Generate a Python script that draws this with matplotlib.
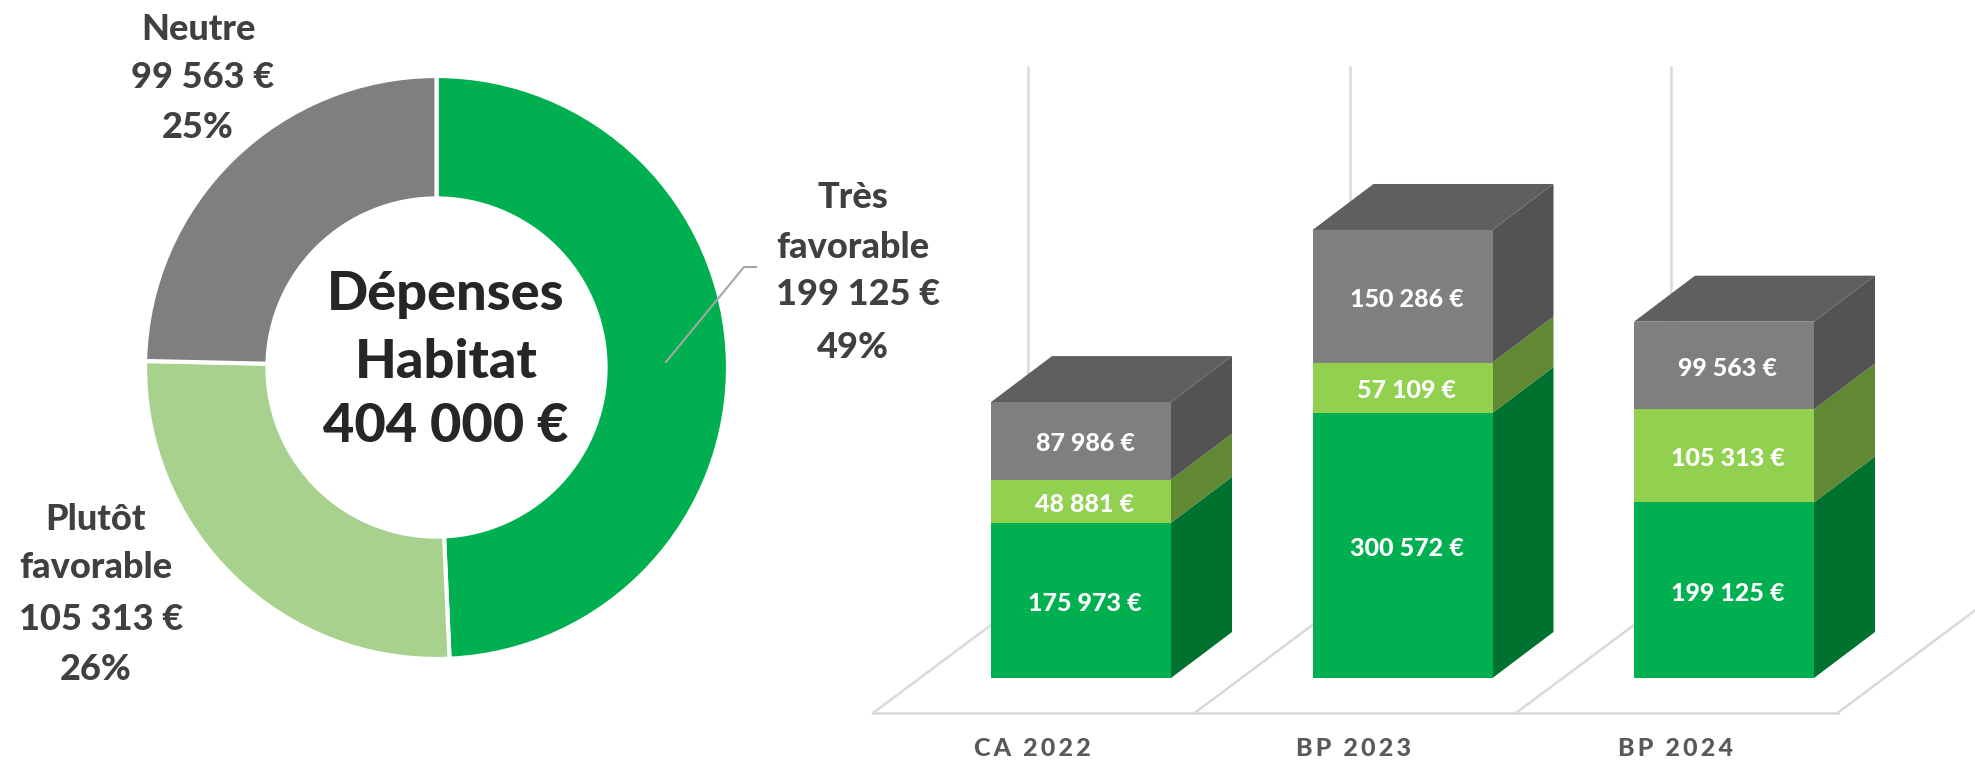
import matplotlib
matplotlib.use('Agg')
import matplotlib.pyplot as plt

# donut
donut_labels = ['Très\nfavorable', 'Plutôt\nfavorable', 'Neutre']
donut_values = [199125, 105313, 99563]
donut_shares = ['49%', '26%', '25%']
donut_colors = ['#00B050', '#A9D18E', '#7F7F7F']
center_lines = ['Dépenses', 'Habitat', '404 000 €']

# stacked bars
periods = ['C\u2009A  2\u20090\u20092\u20092', 'B\u2009P  2\u20090\u20092\u20093', 'B\u2009P  2\u20090\u20092\u20094']
tres_favorable = [175973, 300572, 199125]
plutot_favorable = [48881, 57109, 105313]
neutre = [87986, 150286, 99563]
front_colors = ['#00B050', '#92D050', '#7F7F7F']
side_colors = ['#00722F', '#618833', '#535353']
top_color = '#5F5F5F'

W, H = 1975, 760
TEXT = '#404040'
GRID = '#D9D9D9'

plt.rcParams['font.family'] = ['Lato', 'DejaVu Sans']


def euro(v):
    return f'{v:,}'.replace(',', ' ') + ' €'


def box(left, top, right, bottom):
    return [left / W, 1 - bottom / H, (right - left) / W, (bottom - top) / H]


def fig_text(fig, x, y, s, **kw):
    fig.text(x / W, 1 - y / H, s, ha='center', va='center', **kw)


fig = plt.figure(figsize=(W / 100, H / 100), dpi=100)

# --- donut ---
ax = fig.add_axes(box(145, 76, 728, 659))
ax.pie(donut_values, colors=donut_colors, startangle=90, counterclock=False, radius=1,
       wedgeprops=dict(width=0.42, edgecolor='white', linewidth=3))
ax.set_xlim(-1, 1)
ax.set_ylim(-1, 1)

for y, line in zip([295, 362, 426], center_lines):
    fig_text(fig, 446, y, line, fontsize=39, fontweight='black', color='#262626')

label_spots = [(853, [198, 248, 295, 348]), (96, [519, 568, 619, 669]), (198, [30, 78, 128])]
for (x, ys), name, value, share in zip(label_spots, donut_labels, donut_values, donut_shares):
    lines = name.split('\n') + [euro(value), share]
    for y, line in zip(ys, lines):
        # the euro line sits a little to the right in the original
        shift = 5 if '€' in line else 0
        fig_text(fig, x + shift, y, line, fontsize=26, fontweight='black', color=TEXT)

# leader line
fig.add_artist(plt.Line2D([666 / W, 744 / W, 756 / W], [1 - 362 / H, 1 - 267 / H, 1 - 267 / H],
                          color='#A6A6A6', linewidth=1.5))

# --- pseudo 3D stacked bars ---
PX_PER_EURO = 0.000882
PX_PER_STEP = 321.5
LEFT, RIGHT, TOP, BASE = 860, 1975, 0, 678
FIRST_CENTER = 1081

ax2 = fig.add_axes(box(LEFT, TOP, RIGHT, H), facecolor='none')
ax2.set_xlim((LEFT - FIRST_CENTER) / PX_PER_STEP, (RIGHT - FIRST_CENTER) / PX_PER_STEP)
ax2.set_ylim((BASE - H) / PX_PER_EURO, BASE / PX_PER_EURO)
ax2.axis('off')

bar_w = 180 / PX_PER_STEP
dx = 61 / PX_PER_STEP
dy = 46 / PX_PER_EURO
floor_y = -35 / PX_PER_EURO
slope_run = 118 / PX_PER_STEP
slope_rise = 88 / PX_PER_EURO
back_x = (1028 - FIRST_CENTER) / PX_PER_STEP
floor_x = back_x - 155 / PX_PER_STEP
wall_top = 611 / PX_PER_EURO

# floor and walls behind the bars
n = len(periods)
ax2.plot([floor_x, n + floor_x], [floor_y, floor_y], color=GRID, lw=1.8, zorder=1)
for i in range(n + 1):
    x0 = i + floor_x
    ax2.plot([x0, x0 + 1.5 * slope_run], [floor_y, floor_y + 1.5 * slope_rise], color=GRID, lw=1.8, zorder=1)
for i in range(n):
    ax2.plot([i + back_x, i + back_x], [floor_y + 155 / 118 * slope_rise, wall_top], color=GRID, lw=1.8, zorder=1)

series = [tres_favorable, plutot_favorable, neutre]
bottoms = [0] * n
for vals, front, side in zip(series, front_colors, side_colors):
    ax2.bar(range(n), vals, bar_w, bottom=bottoms, color=front, zorder=3)
    for i, v in enumerate(vals):
        b = bottoms[i]
        xr = i + bar_w / 2
        ax2.fill([xr, xr + dx, xr + dx, xr], [b, b + dy, b + v + dy, b + v], color=side, lw=0, zorder=2)
        ax2.text(i + 4 / PX_PER_STEP, b + v / 2 - 3 / PX_PER_EURO, euro(v), ha='center', va='center',
                 color='white', fontsize=18, fontweight='black', zorder=4)
    bottoms = [b + v for b, v in zip(bottoms, vals)]

for i, total in enumerate(bottoms):
    xl, xr = i - bar_w / 2, i + bar_w / 2
    ax2.fill([xl, xr, xr + dx, xl + dx], [total, total, total + dy, total + dy], color=top_color, lw=0, zorder=2)

for i, name in enumerate(periods):
    ax2.text(i + back_x + 4 / PX_PER_STEP, -71 / PX_PER_EURO, name, ha='center', va='center', color='#595959',
             fontsize=18, fontweight='black', zorder=4)

fig.savefig('out.png', dpi=100)
